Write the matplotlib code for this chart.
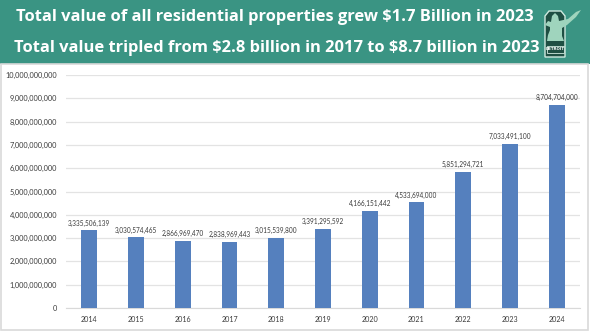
import numpy as np
import matplotlib.pyplot as plt
from matplotlib.patches import Rectangle, Polygon
from matplotlib.ticker import FuncFormatter

# dados: valor total das propriedades residenciais por ano
anos = ["2014", "2015", "2016", "2017", "2018", "2019",
        "2020", "2021", "2022", "2023", "2024"]
valores = [3335506139, 3030574465, 2866969470, 2838969443, 3015539800,
           3391295592, 4166151442, 4533694000, 5851294721, 7033491100,
           8704704000]

titulo1 = r"Total value of all residential properties grew \$1.7 Billion in 2023"
titulo2 = r"Total value tripled from \$2.8 billion in 2017 to \$8.7 billion in 2023"

VERDE = "#3a9483"
AZUL = "#5580be"
W, H = 590, 331

fig = plt.figure(figsize=(5.9, 3.31), dpi=100)
fig.patch.set_facecolor("white")


def px(pontos):
    # converte pixels (origem no canto superior esquerdo) para fracao da figura
    return [(a / W, 1 - b / H) for a, b in pontos]


# faixa do titulo
fig.patches.append(Rectangle((0, 1 - 64 / H), 1, 64 / H, transform=fig.transFigure,
                             facecolor=VERDE, edgecolor="none", zorder=0))
fig.text(16 / W, 1 - 21 / H, titulo1, color="white", fontsize=11.85, fontweight="bold",
         family="Open Sans", ha="left", va="baseline")
fig.text(14 / W, 1 - 52 / H, titulo2, color="white", fontsize=11.85, fontweight="bold",
         family="Open Sans", ha="left", va="baseline")

# selo da cidade
escudo = px([(545, 16), (549, 11), (561, 11), (565, 16), (565, 57), (545, 57)])
fig.patches.append(Polygon(escudo, closed=True, transform=fig.transFigure,
                           facecolor="#1f4f43", edgecolor="#cfeadf", linewidth=1.0,
                           zorder=1))
estatua = px([(552, 16), (555, 13), (558, 16), (559, 21), (568, 19), (576, 12),
              (581, 10), (576, 17), (567, 25), (562, 28), (562, 36), (564, 41),
              (547, 41), (548, 35), (550, 30), (550, 27), (545, 25), (548, 21),
              (551, 22)])
fig.patches.append(Polygon(estatua, closed=True, transform=fig.transFigure,
                           facecolor="#9fd4bd", edgecolor="none", zorder=2))
fig.patches.append(Rectangle((546.5 / W, 1 - 53 / H), 17 / W, 7 / H,
                             transform=fig.transFigure, facecolor="#1f4f43",
                             edgecolor="#cfeadf", linewidth=0.6, zorder=3))
fig.text(555 / W, 1 - 49.5 / H, "DETROIT", color="white", fontsize=2.8,
         fontweight="bold", ha="center", va="center", zorder=4)

# moldura do painel do grafico
fig.patches.append(Rectangle((1 / W, 1 / H), 587 / W, (H - 65) / H,
                             transform=fig.transFigure, facecolor="white",
                             edgecolor="#d9d9d9", linewidth=1.2, zorder=0))

ax = fig.add_axes([66 / W, 1 - 308 / H, 514 / W, 233 / H])
ax.set_zorder(5)
ax.patch.set_alpha(0)
x = np.arange(len(anos))
ax.bar(x, valores, width=0.34, color=AZUL, zorder=3)

for xi, v in zip(x, valores):
    ax.text(xi, v + 160000000, f"{v:,}", ha="center", va="bottom",
            fontsize=4.7, color="#3a3a3a", family="Lato")

ax.set_xlim(-0.5, len(anos) - 0.5)
ax.set_ylim(0, 10000000000)
ax.set_yticks(np.arange(0, 10000000001, 1000000000))
ax.yaxis.set_major_formatter(FuncFormatter(lambda v, p: f"{int(v):,}"))
ax.set_xticks(x)
ax.set_xticklabels(anos)
ax.tick_params(axis="both", length=0, labelsize=5.3, labelcolor="#3a3a3a")
ax.tick_params(axis="x", labelsize=5.1)
for rotulo in ax.get_xticklabels() + ax.get_yticklabels():
    rotulo.set_family("Lato")
ax.tick_params(axis="y", pad=6.5)
ax.tick_params(axis="x", pad=6)
ax.grid(axis="y", color="#e3e3e3", linewidth=0.9, zorder=0)
for lado in ["top", "right", "left"]:
    ax.spines[lado].set_visible(False)
ax.spines["bottom"].set_color("#d9d9d9")

plt.savefig("out.png", dpi=100)
